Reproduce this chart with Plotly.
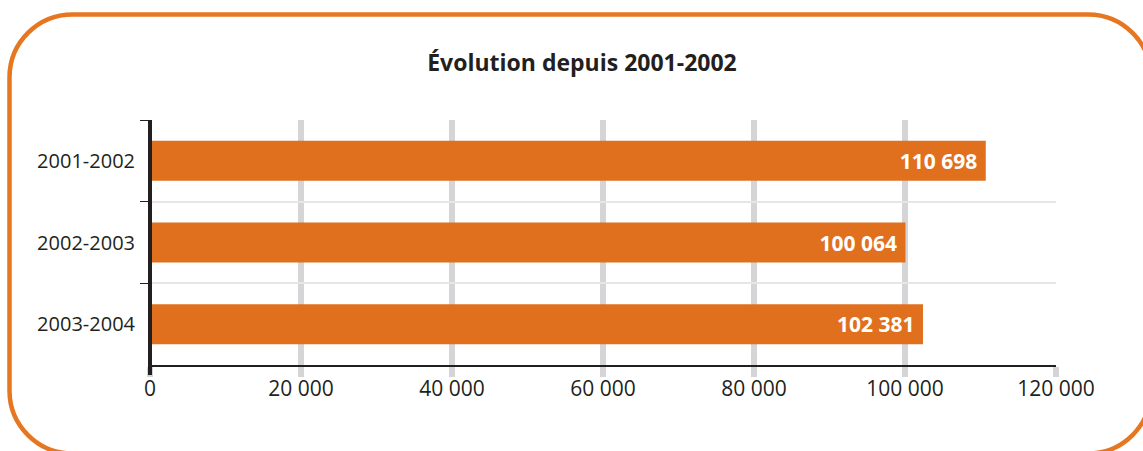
import plotly.graph_objects as go

# data
categories = ["2001-2002", "2002-2003", "2003-2004"]
values = [110698, 100064, 102381]
x_ticks = [0, 20000, 40000, 60000, 80000, 100000, 120000]

W, H = 1143, 451
L, R, T, B = 150, 87, 120, 86
PW, PH = W - L - R, H - T - B

ORANGE = "#E0701E"
FRAME = "#E6761F"
DARK = "#231F20"
GRID = "#D5D5D7"


def px(x):
    return (x - L) / PW


def py(y):
    return (H - B - y) / PH


def frame_path(left, top, right, bottom, r):
    k = 0.5523 * r
    pts = [
        ("M", [(left, top + r)]),
        ("C", [(left, top + r - k), (left + r - k, top), (left + r, top)]),
        ("L", [(right - r, top)]),
        ("C", [(right - r + k, top), (right, top + r - k), (right, top + r)]),
        ("L", [(right, bottom - r)]),
        ("C", [(right, bottom - r + k), (right - r + k, bottom), (right - r, bottom)]),
        ("L", [(left + r, bottom)]),
        ("C", [(left + r - k, bottom), (left, bottom - r + k), (left, bottom - r)]),
    ]
    out = ""
    for cmd, p in pts:
        out += cmd + " ".join(f"{px(a):.5f},{py(b):.5f}" for a, b in p) + " "
    return out + "Z"


fig = go.Figure(
    go.Bar(
        y=categories,
        x=values,
        orientation="h",
        marker_color=ORANGE,
        marker_line_width=0,
        texttemplate="%{x:,d}&nbsp;",
        textposition="inside",
        insidetextanchor="end",
        textfont=dict(family="Open Sans", size=21, color="white", weight="bold"),
        hoverinfo="skip",
    )
)

fig.update_layout(
    width=W,
    height=H,
    autosize=False,
    margin=dict(l=L, r=R, t=T, b=B),
    paper_bgcolor="white",
    plot_bgcolor="white",
    separators=", ",
    bargap=0.51,
    showlegend=False,
    font=dict(family="Open Sans", color=DARK),
    title=dict(
        text="Évolution depuis 2001-2002",
        font=dict(family="Open Sans", size=23, color=DARK, weight="bold"),
        x=582 / W,
        xref="container",
        xanchor="center",
        y=1 - 63 / H,
        yref="container",
        yanchor="middle",
    ),
)

fig.update_xaxes(
    range=[0, 120000],
    tickvals=x_ticks,
    tickformat=",d",
    showgrid=True,
    gridcolor=GRID,
    gridwidth=6,
    zeroline=False,
    showline=True,
    linecolor=DARK,
    linewidth=1.5,
    ticks="outside",
    ticklen=10,
    tickwidth=6,
    tickcolor=GRID,
    ticklabelstandoff=-6,
    tickfont=dict(size=21, color=DARK),
)

fig.update_yaxes(
    autorange="reversed",
    tickson="boundaries",
    showgrid=True,
    gridcolor="#E6E6E6",
    gridwidth=1.5,
    ticks="outside",
    ticklen=9,
    tickwidth=1,
    tickcolor=DARK,
    ticklabelstandoff=14,
    tickfont=dict(size=20, color=DARK),
)

# thick black y axis line, running past the x axis like the gridlines
fig.add_shape(
    type="line",
    xref="paper",
    yref="paper",
    x0=0,
    x1=0,
    y0=py(375),
    y1=1,
    line=dict(color=DARK, width=4),
    layer="above",
)

# rounded orange frame
fig.add_shape(
    type="path",
    xref="paper",
    yref="paper",
    path=frame_path(9.5, 14.5, 1151, 453.5, 63),
    line=dict(color=FRAME, width=4.5),
    fillcolor="rgba(0,0,0,0)",
)

fig.write_html(
    "out.html",
    config={"displayModeBar": False},
    post_script="document.body.style.margin='0px';",
)
